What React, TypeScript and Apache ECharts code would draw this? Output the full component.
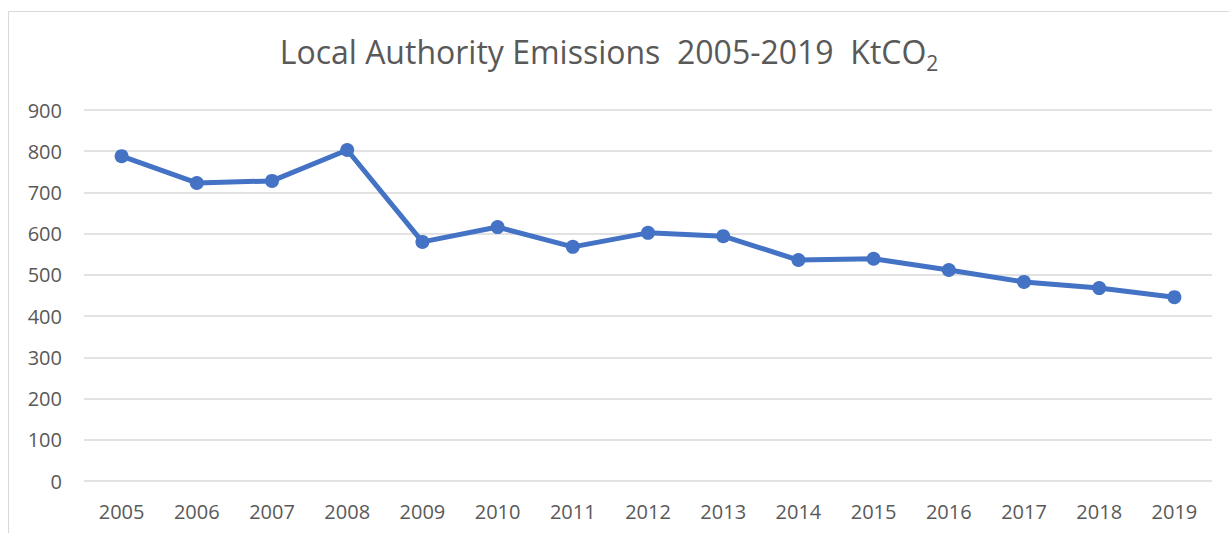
import React, { useEffect, useRef } from "react";
import * as echarts from "echarts";

const years = ["2005", "2006", "2007", "2008", "2009", "2010", "2011", "2012", "2013", "2014", "2015", "2016", "2017", "2018", "2019"];
const emissions = [788, 723, 728, 803, 580, 616, 568, 602, 594, 536, 539, 512, 483, 468, 446];
const titleMain = "Local Authority Emissions  2005-2019  KtCO";
const titleSub = "2";

export default function App() {
  const ref = useRef<HTMLDivElement>(null);
  useEffect(() => {
    if (!ref.current) return;
    const chart = echarts.init(ref.current, undefined, { renderer: "svg" });
    const font = "'Open Sans', 'Liberation Sans', sans-serif";
    chart.setOption({
      animation: false,
      backgroundColor: "#ffffff",
      title: {
        text: titleMain + "{sub|" + titleSub + "}",
        left: 604,
        textAlign: "center",
        top: 25,
        textStyle: {
          fontFamily: font,
          fontSize: 32,
          fontWeight: "normal",
          color: "#595959",
          rich: {
            sub: {
              fontFamily: font,
              fontSize: 21,
              color: "#595959",
              verticalAlign: "bottom",
              padding: [22, 0, 0, 0],
            },
          },
        },
      },
      graphic: [
        {
          type: "rect",
          shape: { x: 8.5, y: 11.5, width: 1400, height: 700 },
          style: { fill: "none", stroke: "#D9D9D9", lineWidth: 1 },
          silent: true,
          z: -10,
        },
      ],
      grid: { left: 84, right: 17, top: 110, bottom: 52, containLabel: false },
      xAxis: {
        type: "category",
        data: years,
        boundaryGap: true,
        axisLine: { show: false },
        axisTick: { show: false },
        axisLabel: { fontFamily: font, fontSize: 20, color: "#595959", margin: 20 },
      },
      yAxis: {
        type: "value",
        min: 0,
        max: 900,
        interval: 100,
        axisLine: { show: false },
        axisTick: { show: false },
        axisLabel: { fontFamily: font, fontSize: 20, color: "#595959", margin: 22 },
        splitLine: { lineStyle: { color: "#D9D9D9", width: 1.5 } },
      },
      series: [
        {
          type: "line",
          data: emissions,
          symbol: "circle",
          symbolSize: 14,
          lineStyle: { color: "#4472C4", width: 5 },
          itemStyle: { color: "#4472C4" },
        },
      ],
    });
    return () => chart.dispose();
  }, []);
  return <div ref={ref} style={{ position: "fixed", left: 0, top: 0, width: 1229, height: 533 }} />;
}
